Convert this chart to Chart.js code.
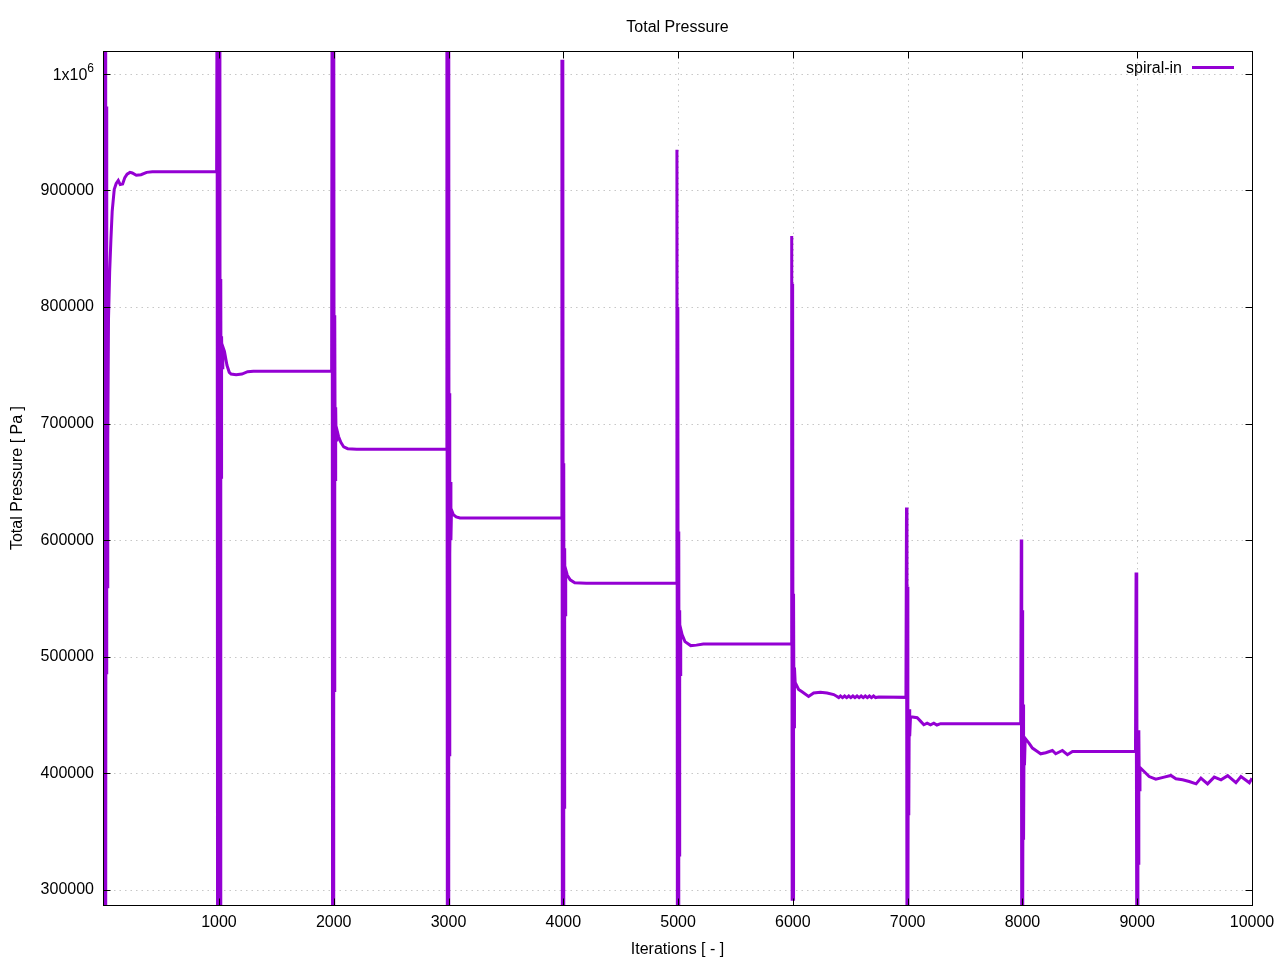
<!DOCTYPE html>
<html>
<head>
<meta charset="utf-8">
<title>Total Pressure</title>
<script src="https://cdn.jsdelivr.net/npm/chart.js@4/dist/chart.umd.min.js"></script>
<style>
  html, body { margin: 0; padding: 0; background: #fff; }
  canvas { display: block; }
</style>
</head>
<body>
<canvas id="chart" width="1280" height="960"></canvas>
<script>
// Data (iteration, total pressure in Pa)
const iterations = [
  0, 3, 6, 9, 12, 15, 18, 21, 24, 27, 30, 33, 38, 48, 59, 70, 88, 105, 123, 140, 161, 180, 200, 225, 245, 280, 321, 370, 420, 980,
  984, 988, 992, 996, 1000, 1004, 1008, 1012, 1016, 1019, 1023, 1028, 1034, 1048, 1070, 1090, 1106, 1150, 1200, 1250, 1300, 1400, 1982,
  1986, 1990, 1994, 1998, 2002, 2005, 2009, 2013, 2017, 2021, 2027, 2042, 2062, 2087, 2122, 2200, 2982,
  2986, 2990, 2994, 2998, 3002, 3005, 3009, 3013, 3017, 3021, 3026, 3042, 3067, 3100, 3985,
  3988, 3992, 3996, 4000, 4004, 4008, 4012, 4016, 4021, 4035, 4060, 4100, 4200, 4985,
  4990, 4994, 4998, 5002, 5006, 5010, 5014, 5018, 5023, 5035, 5060, 5110, 5160, 5220, 5985,
  5990, 5994, 5998, 6002, 6006, 6010, 6014, 6020, 6050, 6080, 6137, 6181, 6240, 6298, 6356, 6385,
  6400, 6415, 6433, 6451, 6469, 6487, 6505, 6523, 6541, 6559, 6577, 6595, 6613, 6631, 6649, 6667, 6685, 6703, 6721, 6748, 6985,
  6990, 6994, 6998, 7002, 7006, 7010, 7014, 7018, 7025, 7083, 7110, 7141, 7170, 7199, 7228, 7255, 7287, 7985,
  7990, 7994, 7998, 8002, 8006, 8010, 8014, 8018, 8024, 8057, 8087, 8130, 8159, 8203, 8261, 8290, 8348, 8392, 8436, 8985,
  8990, 8994, 8998, 9002, 9006, 9010, 9014, 9018, 9024, 9060, 9104, 9162, 9235, 9293, 9337, 9395, 9453, 9513, 9555, 9613, 9671, 9730, 9788, 9860, 9904, 9977, 10000
];
const totalPressure = [
  1100000, 260000, 1100000, 260000, 1100000, 260000, 972000, 485000, 780000, 560000, 760000, 685000, 790000, 830000, 858000, 882000, 901000, 906000, 908500, 905000, 905500, 911000, 914000, 915500, 915000, 913000, 913500, 915500, 916000, 916000,
  1100000, 260000, 1100000, 260000, 1100000, 260000, 1100000, 260000, 824000, 654000, 775000, 748000, 766000, 762000, 750000, 744000, 742500, 742000, 742500, 744500, 745000, 745000, 745000,
  1100000, 260000, 1100000, 260000, 1100000, 471000, 793000, 652000, 714000, 686000, 695000, 689000, 684000, 680000, 678500, 678000, 678000,
  1100000, 260000, 1100000, 260000, 1100000, 416000, 726000, 588000, 650000, 600000, 626000, 622000, 620000, 619000, 619000,
  1012000, 260000, 1012000, 260000, 666000, 371000, 593000, 536000, 575000, 570000, 566000, 563500, 563000, 563000,
  935000, 260000, 800000, 260000, 607500, 330000, 540000, 484700, 524000, 519000, 513000, 509600, 510000, 511000, 511000,
  861000, 292000, 820000, 292000, 554000, 440000, 490700, 478000, 472000, 470000, 466000, 469000, 469500, 469000, 467600, 466000,
  465000, 466400, 465000, 466400, 465000, 466400, 465000, 466400, 465000, 466400, 465000, 466400, 465000, 466400, 465000, 466400, 465000, 466400, 465000, 465500, 465200,
  628000, 260000, 560000, 260000, 455000, 364000, 455000, 432000, 448600, 447700, 445000, 441700, 443000, 441700, 443000, 441500, 442600, 442600,
  600600, 260000, 540000, 260000, 459000, 343000, 429000, 407000, 430000, 426000, 421700, 418800, 416800, 417700, 419600, 416800, 419600, 416000, 418800, 418800,
  572300, 260000, 500000, 260000, 437000, 323000, 437000, 386000, 405000, 401600, 397300, 395000, 396800, 398200, 395300, 394500, 393000, 391000, 395900, 391000, 396800, 394500, 398000, 392000, 397300, 392000, 395900
];
const xTickValues = [1000, 2000, 3000, 4000, 5000, 6000, 7000, 8000, 9000, 10000];
const yTickValues = [300000, 400000, 500000, 600000, 700000, 800000, 900000, 1000000];

const lineColor = "#9400d3";
const fontFamily = "'Liberation Sans', Arial, sans-serif";
const font = { family: fontFamily, size: 16 };

// gnuplot-like frame: dotted grid, border, inward ticks, legend and title
const gnuFrame = {
  id: "gnuFrame",
  beforeDatasetsDraw(chart) {
    const { ctx, chartArea: a, scales: { x, y } } = chart;
    ctx.save();
    ctx.strokeStyle = "rgba(0,0,0,0.22)";
    ctx.lineWidth = 1;
    ctx.setLineDash([1.5, 4]);
    ctx.beginPath();
    xTickValues.forEach((v) => {
      const px = Math.round(x.getPixelForValue(v)) + 0.5;
      ctx.moveTo(px, a.top);
      ctx.lineTo(px, a.bottom);
    });
    yTickValues.forEach((v) => {
      const py = Math.round(y.getPixelForValue(v)) + 0.5;
      ctx.moveTo(a.left, py);
      ctx.lineTo(a.right, py);
    });
    ctx.stroke();
    ctx.restore();
  },
  afterDatasetsDraw(chart) {
    const { ctx, chartArea: a, scales: { x, y } } = chart;
    const tl = 7;
    ctx.save();
    ctx.strokeStyle = "#000";
    ctx.lineWidth = 1;
    const L = Math.round(a.left) + 0.5, R = Math.round(a.right) + 0.5;
    const T = Math.round(a.top) + 0.5, B = Math.round(a.bottom) + 0.5;
    ctx.strokeRect(L, T, R - L, B - T);
    ctx.beginPath();
    xTickValues.forEach((v) => {
      const px = Math.round(x.getPixelForValue(v)) + 0.5;
      ctx.moveTo(px, B); ctx.lineTo(px, B - tl);
      ctx.moveTo(px, T); ctx.lineTo(px, T + tl);
    });
    yTickValues.forEach((v) => {
      const py = Math.round(y.getPixelForValue(v)) + 0.5;
      ctx.moveTo(L, py); ctx.lineTo(L + tl, py);
      ctx.moveTo(R, py); ctx.lineTo(R - tl, py);
    });
    ctx.stroke();

    ctx.fillStyle = "#000";
    ctx.textBaseline = "middle";

    // 1x10^6 tick label with a raised exponent
    const py6 = y.getPixelForValue(1000000);
    ctx.textAlign = "right";
    ctx.font = "12px " + fontFamily;
    ctx.fillText("6", a.left - 9, py6 - 5);
    const w6 = ctx.measureText("6").width;
    ctx.font = "16px " + fontFamily;
    ctx.fillText("1x10", a.left - 9 - w6, py6 + 2);

    // legend
    ctx.fillText("spiral-in", a.right - 70, a.top + 18);
    ctx.strokeStyle = lineColor;
    ctx.lineWidth = 3;
    ctx.beginPath();
    ctx.moveTo(a.right - 60, a.top + 16.5);
    ctx.lineTo(a.right - 18, a.top + 16.5);
    ctx.stroke();

    // title over the plot area
    ctx.textAlign = "center";
    ctx.fillText("Total Pressure", (a.left + a.right) / 2, 28);
    ctx.restore();
  }
};

new Chart(document.getElementById("chart"), {
  type: "line",
  data: {
    datasets: [{
      label: "spiral-in",
      data: iterations.map((it, i) => ({ x: it, y: totalPressure[i] })),
      borderColor: lineColor,
      borderWidth: 3,
      pointRadius: 0,
      tension: 0,
      fill: false,
      clip: 0
    }]
  },
  options: {
    responsive: false,
    animation: false,
    layout: { padding: { top: 51, right: 28, left: 0, bottom: 0 } },
    plugins: {
      legend: { display: false },
      title: { display: false },
      tooltip: { enabled: false }
    },
    scales: {
      x: {
        type: "linear",
        min: -10,
        max: 10000,
        afterBuildTicks: (s) => { s.ticks = xTickValues.map((v) => ({ value: v })); },
        afterFit: (s) => { s.height = 55; s.paddingLeft = 0; s.paddingRight = 0; },
        grid: { display: false, drawTicks: false },
        border: { display: false },
        ticks: { padding: 8, font: font, color: "#000", maxRotation: 0, autoSkip: false,
          callback: (v) => String(v) },
        title: { display: true, text: "Iterations [ - ]", font: font, color: "#000",
          padding: { top: 0, bottom: 1 } }
      },
      y: {
        type: "linear",
        min: 287100,
        max: 1019600,
        afterBuildTicks: (s) => { s.ticks = yTickValues.map((v) => ({ value: v })); },
        afterFit: (s) => { s.width = 103; s.paddingTop = 0; s.paddingBottom = 0; },
        grid: { display: false, drawTicks: false },
        border: { display: false },
        ticks: { padding: 9, font: font, color: "#000", autoSkip: false,
          callback: (v) => (v === 1000000 ? "" : String(v)) },
        title: { display: true, text: "Total Pressure [ Pa ]", font: font, color: "#000",
          padding: { top: 8, bottom: 0 } }
      }
    }
  },
  plugins: [gnuFrame]
});
</script>
</body>
</html>
